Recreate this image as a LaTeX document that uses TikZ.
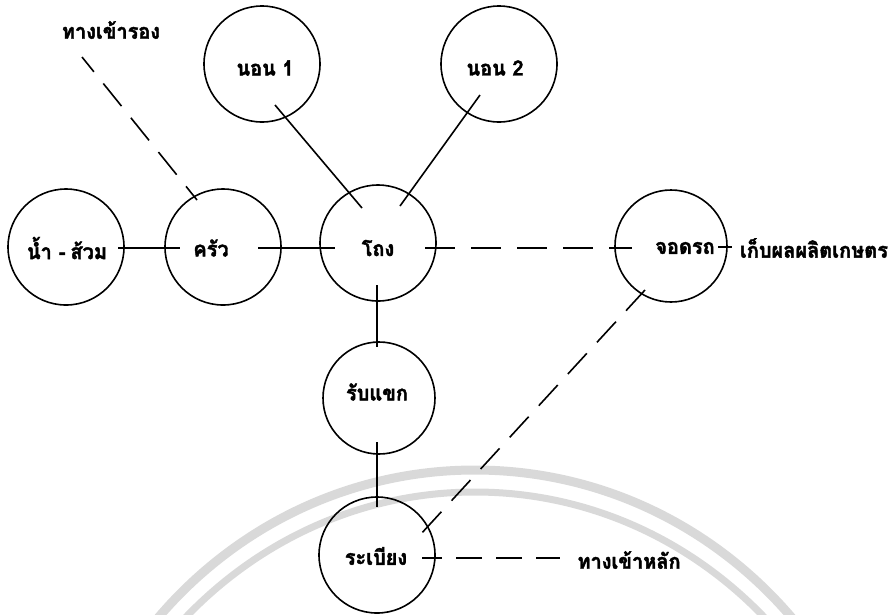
\documentclass[tikz,border=0pt]{standalone}
\usepackage{fontspec}
\newfontfamily\thai[Script=Thai, FakeBold=2, FakeStretch=0.95]{Loma}
\usetikzlibrary{calc}
\tikzset{
  room/.style={draw, circle, line width=1.6pt, minimum size=116pt, inner sep=0pt},
  lbl/.style={font=\thai\bfseries\fontsize{21}{24}\selectfont, inner sep=0pt},
  link/.style={line width=1.6pt},
  dlink/.style={line width=1.6pt, dash pattern=on 29pt off 15pt},
  wm/.style={line width=9pt, color=black!15},
}
\begin{document}
\begin{tikzpicture}[x=1pt,y=-1pt]
\path[use as bounding box] (0,0) rectangle (896,614);
% faint watermark arcs
\begin{scope}
  \clip (0,0) rectangle (896,614);
  \draw[wm] (475,900) ellipse [x radius=420pt, y radius=430pt];
  \draw[wm, line width=7pt] (475,922) ellipse [x radius=410pt, y radius=430pt];
\end{scope}
% rooms
\node[room] (nom1) at (262,64) {};
\node[room] (nom2) at (499,64) {};
\node[room] (nam) at (66,247) {};
\node[room] (krua) at (223,247) {};
\node[room] (thong) at (378,243) {};
\node[room, minimum size=112pt] (jod) at (671,246) {};
\node[room, minimum size=112pt] (rab) at (379,398) {};
\node[room] (rabiang) at (377,555) {};
% labels
\node[lbl] (tsec) at (111,30) {ทางเข้ารอง};
\node[lbl] (nom1t) at (265,68) {นอน 1};
\node[lbl] (nom2t) at (495,68) {นอน 2};
\node[lbl] (namt) at (67,248) {น้ำ\hspace{7pt}-\hspace{5pt}ส้วม};
\node[lbl] (kruat) at (211,248) {ครัว};
\node[lbl] (thongt) at (378,248) {โถง};
\node[lbl] (jodt) at (685,248) {จอดรถ};
\node[lbl] (harv) at (814,248) {เก็บผลผลิตเกษตร};
\node[lbl] (rabt) at (377,392) {รับแขก};
\node[lbl] (rabiangt) at (376,556) {ระเบียง};
\node[lbl] (tmain) at (629,560) {ทางเข้าหลัก};
% solid connectors
\draw[link] ($(nam)+(52,1)$) -- ($(krua)+(-43,1)$);
\draw[link] ($(krua)+(35,1)$) -- ($(thong)+(-43,5)$);
\draw[link] ($(nom1)+(13,41)$) -- ($(thong)+(-16,-35)$);
\draw[link] ($(nom2)+(-19,31)$) -- ($(thong)+(22,-37)$);
\draw[link] ($(thong)+(-1,42)$) -- ($(rab)+(-2,-51)$);
\draw[link] ($(rab)+(-2,44)$) -- ($(rabiang)+(0,-48)$);
\draw[link] ($(jod)+(47,1)$) -- ($(jod)+(61,1)$);
% dashed connectors
\draw[dlink, dash phase=10pt] ($(tsec)+(-29,27)$) -- ($(krua)+(-26,-47)$);
\draw[dlink, dash pattern=on 30pt off 16pt] ($(thong)+(47,5)$) -- ($(jod)+(-39,2)$);
\draw[dlink, dash pattern=on 28pt off 15pt] ($(jod)+(-26,44)$) -- ($(rabiang)+(43,-20)$);
\draw[dlink, dash pattern=on 26pt off 14pt, dash phase=6pt] ($(rabiang)+(45,3)$) -- ($(tmain.west)+(-17,-2)$);
\end{tikzpicture}
\end{document}
